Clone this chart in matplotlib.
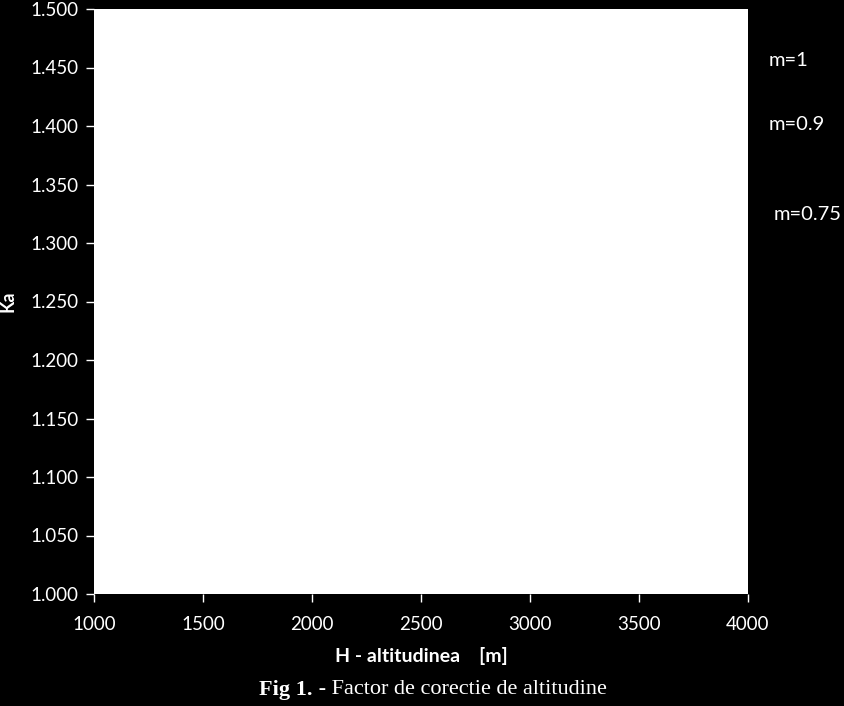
import matplotlib
matplotlib.use("Agg")
import matplotlib.pyplot as plt

# altitudes and Ka values (curves are white on the white plot area in the original)
altitude = [1000, 1500, 2000, 2500, 3000, 3500, 4000]
ka_m1 = [1.000, 1.063, 1.131, 1.202, 1.278, 1.359, 1.445]
ka_m09 = [1.000, 1.057, 1.117, 1.180, 1.247, 1.318, 1.393]
ka_m075 = [1.000, 1.047, 1.096, 1.148, 1.202, 1.259, 1.318]
series_labels = ['m=1', 'm=0.9', 'm=0.75']
label_pos = [(4096, 1.456), (4096, 1.401), (4116, 1.324)]

x_ticks = [1000, 1500, 2000, 2500, 3000, 3500, 4000]
y_ticks = [1.0, 1.05, 1.1, 1.15, 1.2, 1.25, 1.3, 1.35, 1.4, 1.45, 1.5]

fig = plt.figure(figsize=(8.45, 7.06), dpi=100, facecolor='black')
ax = fig.add_axes([94 / 845, 1 - 594 / 706, 654 / 845, 585 / 706])
ax.set_facecolor('white')

for ys in (ka_m1, ka_m09, ka_m075):
    ax.plot(altitude, ys, color='white', lw=1.5)

for lab, (lx, ly) in zip(series_labels, label_pos):
    ax.text(lx, ly, lab, color='white', fontsize=14.5, family='Lato',
            va='center', ha='left', clip_on=False)

ax.set_xlim(1000, 4000)
ax.set_ylim(1.0, 1.5)
ax.set_xticks(x_ticks)
ax.set_yticks(y_ticks)
ax.set_yticklabels(['%.3f' % v for v in y_ticks])
for s in ax.spines.values():
    s.set_visible(False)
ax.tick_params(colors='white', labelcolor='white', labelsize=13.5, length=6,
               width=1, direction='out')
ax.tick_params(axis='x', pad=10)
ax.tick_params(axis='y', pad=5)
for t in ax.get_xticklabels() + ax.get_yticklabels():
    t.set_family('Lato')

ax.set_xlabel('H - altitudinea    [m]', color='white', fontsize=14,
              fontweight='bold', family='Lato', labelpad=10)
ax.set_ylabel('Ka', color='white', fontsize=13, fontweight='bold',
              family='Lato', labelpad=10)

cap_y = 1 - 690 / 706
fig.text(313 / 845, cap_y, 'Fig 1.', color='white', fontsize=16,
         fontweight='bold', family='Liberation Serif', ha='right', va='center')
fig.text(313 / 845, cap_y, ' - Factor de corectie de altitudine', color='white',
         fontsize=16, family='Liberation Serif', ha='left', va='center')

fig.savefig('out.png', dpi=100, facecolor='black')
